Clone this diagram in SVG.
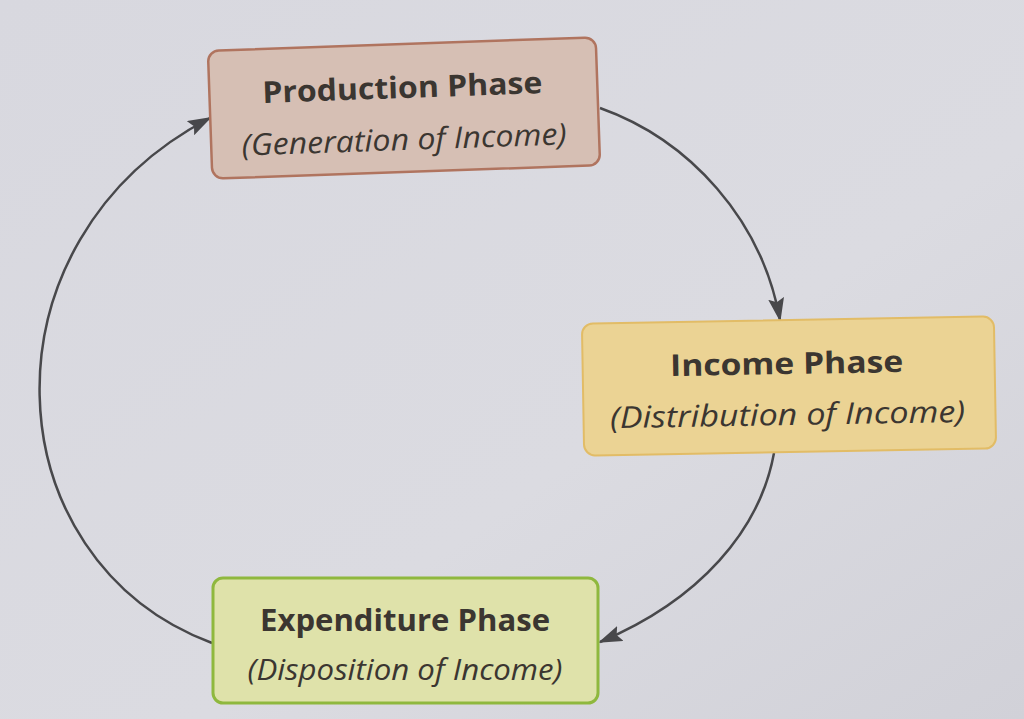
<svg xmlns="http://www.w3.org/2000/svg" width="1024" height="719" viewBox="0 0 1024 719">
  <defs>
    <linearGradient id="bg" x1="0" y1="0" x2="1" y2="1">
      <stop offset="0" stop-color="#d8d8df"/>
      <stop offset="0.6" stop-color="#dbdbe1"/>
      <stop offset="1" stop-color="#d1d1d8"/>
    </linearGradient>
    <marker id="arrow" viewBox="0 0 24 16" refX="22" refY="8" markerWidth="24" markerHeight="16" markerUnits="userSpaceOnUse" orient="auto">
      <path d="M0,0 L24,8 L0,16 L4,8 Z" fill="#48484b"/>
    </marker>
  </defs>
  <style>
    .title { font-family: "Open Sans", "Noto Sans", sans-serif; font-weight: 700; font-size: 30px; fill: #3b3631; text-anchor: middle; }
    .sub { font-family: "Open Sans", "Noto Sans", sans-serif; font-style: italic; font-size: 30px; fill: #3b3631; text-anchor: middle; }
    .conn { fill: none; stroke: #48484b; stroke-width: 2.5; marker-end: url(#arrow); }
  </style>
  <rect x="0" y="0" width="1024" height="719" fill="url(#bg)"/>

  <g id="connectors">
    <path class="conn" d="M600,108 C690,140 762,220 780,320"/>
    <path class="conn" d="M774,453 C760,530 700,600 600,642"/>
    <path class="conn" d="M212,643 C-10,560 -25,240 210,118"/>
  </g>

  <g id="production" transform="rotate(-2 404 108)">
    <rect x="210" y="44" width="388" height="128" rx="11" fill="#d6bfb4" stroke="#b0745f" stroke-width="2.5"/>
    <text class="title" x="403" y="98" textLength="280" lengthAdjust="spacingAndGlyphs">Production Phase</text>
    <text class="sub" x="403" y="150" textLength="325" lengthAdjust="spacingAndGlyphs">(Generation of Income)</text>
  </g>

  <g id="income" transform="rotate(-1 789 386)">
    <rect x="583" y="320" width="412" height="132" rx="11" fill="#ebd394" stroke="#e2bc66" stroke-width="2"/>
    <text class="title" x="787" y="374" textLength="233" lengthAdjust="spacingAndGlyphs">Income Phase</text>
    <text class="sub" x="787" y="425" textLength="355" lengthAdjust="spacingAndGlyphs">(Distribution of Income)</text>
  </g>

  <g id="expenditure">
    <rect x="213" y="578" width="385" height="125" rx="10" fill="#dfe2aa" stroke="#8fb83e" stroke-width="3"/>
    <text class="title" x="405" y="631" textLength="290" lengthAdjust="spacingAndGlyphs">Expenditure Phase</text>
    <text class="sub" x="405" y="680" textLength="315" lengthAdjust="spacingAndGlyphs">(Disposition of Income)</text>
  </g>
</svg>
